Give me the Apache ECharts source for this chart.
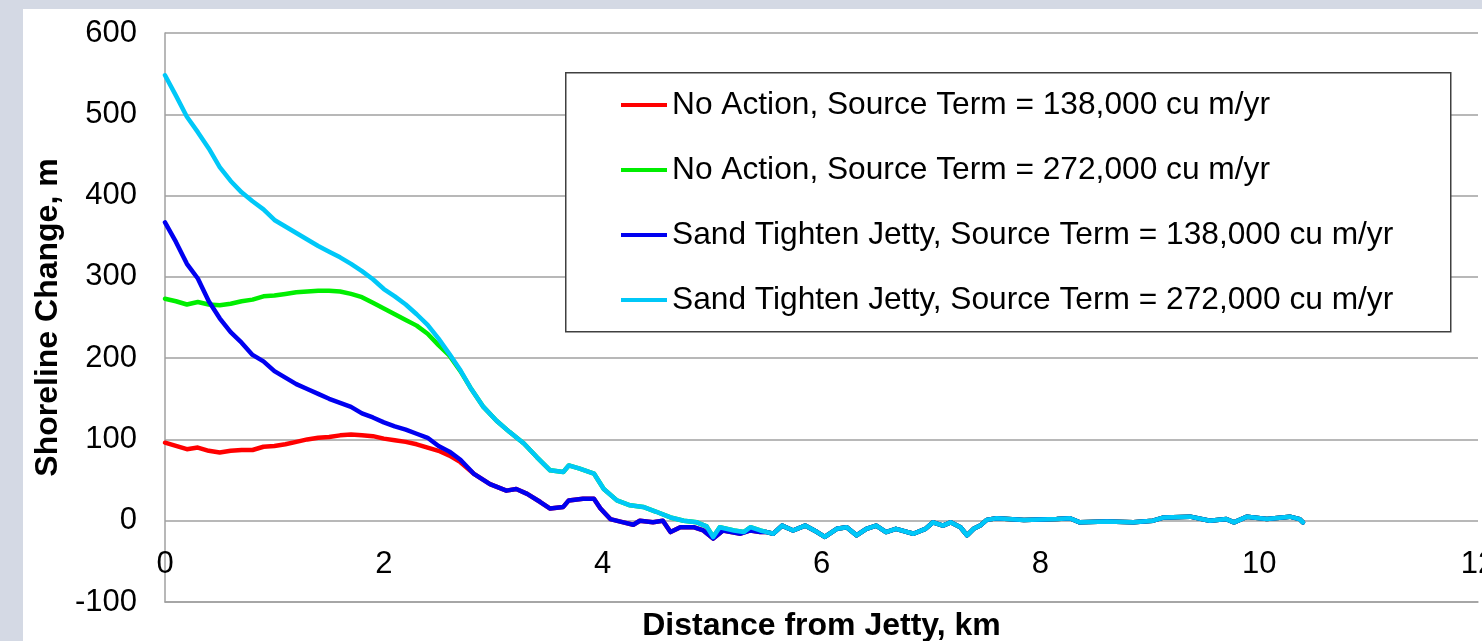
<!DOCTYPE html>
<html>
<head>
<meta charset="utf-8">
<script src="https://cdn.jsdelivr.net/npm/echarts@6/dist/echarts.min.js"></script>
<style>
html,body{margin:0;padding:0;background:#fff;}
#chart{width:1482px;height:641px;}
</style>
</head>
<body>
<div id="chart"></div>
<script>
// ---- data (km, shoreline change m) ----
const seriesNames = [
  'No Action, Source Term = 138,000 cu m/yr',
  'No Action, Source Term = 272,000 cu m/yr',
  'Sand Tighten Jetty, Source Term = 138,000 cu m/yr',
  'Sand Tighten Jetty, Source Term = 272,000 cu m/yr'
];
const xTicks = [0, 2, 4, 6, 8, 10, 12];
const yTicks = [-100, 0, 100, 200, 300, 400, 500, 600];

// 0 - 2.7 km, each scenario separately
const headKm    = [0,0.1,0.2,0.3,0.4,0.5,0.6,0.7,0.8,0.9,1.0,1.1,1.2,1.3,1.4,1.5,1.6,1.7,1.8,1.9,2.0,2.1,2.2,2.3,2.4,2.5,2.6,2.7];
const redHead   = [96,92,88,90,86,84,86,87,87,91,92,94,97,100,102,103,105,106,105,104,101,99,97,94,90,86,80,72];
const greenHead = [273,270,266,269,266,265,267,270,272,276,277,279,281,282,283,283,282,279,275,268,261,254,247,240,230,216,203,184];
const blueHead  = [367,343,316,298,270,249,232,219,204,196,184,176,168,162,156,150,145,140,132,127,121,116,112,107,102,92,85,75];
const cyanHead  = [548,523,497,478,458,435,418,404,393,383,370,362,354,346,338,331,324,316,307,297,285,276,266,254,241,224,205,185];

// 2.8 - 5.45 km, low source pair (red ~ blue) and high source pair (green ~ cyan)
const lowKm   = [2.82,2.97,3.12,3.21,3.31,3.43,3.52,3.64,3.69,3.82,3.92,3.98,4.07,4.19,4.28,4.34,4.46,4.55,4.62,4.71,4.83,4.92,5.01,5.10,5.26,5.35,5.44];
const lowVals = [58,45,37,39,33,23,15,17,25,27,27,15,2,-2,-5,0,-2,0,-14,-8,-8,-12,-22,-12,-16,-12,-14];
const highKm   = [2.79,2.91,3.03,3.15,3.28,3.40,3.52,3.64,3.69,3.79,3.92,4.01,4.13,4.25,4.37,4.49,4.62,4.74,4.86,4.95,5.01,5.07,5.20,5.29,5.35,5.44];
const highVals = [164,140,123,109,95,78,62,60,68,64,58,39,25,19,17,11,4,0,-2,-7,-20,-8,-12,-14,-8,-12];

// 5.5 km - end, all four scenarios coincide
const tailKm   = [5.50,5.56,5.64,5.74,5.85,5.96,6.03,6.14,6.23,6.32,6.41,6.50,6.59,6.68,6.84,6.95,7.02,7.11,7.18,7.27,7.33,7.39,7.45,7.51,7.60,7.85,8.15,8.27,8.36,8.61,8.85,9.03,9.13,9.37,9.55,9.70,9.77,9.89,10.07,10.28,10.37,10.40];
const tailVals = [-14,-16,-6,-12,-6,-14,-20,-10,-8,-18,-10,-6,-14,-10,-16,-10,-2,-6,-2,-8,-18,-10,-6,1,3,1,2,3,-2,-1,-2,0,4,5,0,2,-2,5,2,5,2,-2];

const colors = ['#ff0000', '#00ee00', '#0000f0', '#00c8f8'];

function pairs(xs, ys){ return xs.map((x,i)=>[x, ys[i]]); }
const seriesData = [
  pairs(headKm, redHead).concat(pairs(lowKm, lowVals), pairs(tailKm, tailVals)),
  pairs(headKm, greenHead).concat(pairs(highKm, highVals), pairs(tailKm, tailVals)),
  pairs(headKm, blueHead).concat(pairs(lowKm, lowVals), pairs(tailKm, tailVals)),
  pairs(headKm, cyanHead).concat(pairs(highKm, highVals), pairs(tailKm, tailVals))
];

const FONT = '"Liberation Sans", Arial, sans-serif';
const chart = echarts.init(document.getElementById('chart'), null, {renderer:'canvas'});
chart.setOption({
  backgroundColor: '#ffffff',
  animation: false,
  textStyle: {fontFamily: FONT},
  grid: {left: 165, top: 33, width: 1313, height: 569, containLabel: false, outerBoundsMode: 'none'},
  xAxis: {
    type: 'value', min: 0, max: 12, interval: 2,
    name: 'Distance from Jetty, km', nameLocation: 'middle', nameGap: 8, nameMoveOverlap: false,
    nameTextStyle: {fontFamily: FONT, fontSize: 32, fontWeight: 'bold', color: '#000'},
    axisLine: {onZero: false, lineStyle: {color: '#a0a0a0', width: 1.5}},
    axisTick: {show: false},
    axisLabel: {fontFamily: FONT, fontSize: 31, color: '#000', margin: -53},
    splitLine: {show: false}
  },
  yAxis: {
    type: 'value', min: -100, max: 600, interval: 100,
    name: 'Shoreline Change, m', nameLocation: 'middle', nameGap: 92,
    nameTextStyle: {fontFamily: FONT, fontSize: 32, fontWeight: 'bold', color: '#000'},
    axisLine: {show: true, onZero: false, lineStyle: {color: '#a0a0a0', width: 1.5}},
    axisTick: {show: false},
    axisLabel: {fontFamily: FONT, fontSize: 31, color: '#000', margin: 28},
    splitLine: {show: true, lineStyle: {color: '#a0a0a0', width: 1.5}}
  },
  legend: {
    orient: 'vertical', left: 621, top: 89, padding: 0,
    icon: 'rect', itemWidth: 46, itemHeight: 4, itemGap: 33,
    textStyle: {fontFamily: FONT, fontSize: 31.7, color: '#000', lineHeight: 32},
    data: seriesNames
  },
  graphic: {elements: [
    {type: 'rect', left: 565, top: 72, shape: {width: 885, height: 259}, style: {fill: '#fff', stroke: '#404040', lineWidth: 1.5}, z: 3},
    {type: 'rect', left: 0, top: 0, shape: {width: 1482, height: 9}, style: {fill: '#d4d9e4'}, z: 10},
    {type: 'rect', left: 0, top: 0, shape: {width: 23, height: 641}, style: {fill: '#d4d9e4'}, z: 10}
  ]},
  series: seriesData.map((d, i) => ({
    name: seriesNames[i], type: 'line', data: d, symbol: 'none', showSymbol: false,
    color: colors[i], z: 2 + i * 0.01,
    lineStyle: {width: 4.5, color: colors[i], join: 'round', cap: 'round'}
  }))
});
</script>
</body>
</html>
